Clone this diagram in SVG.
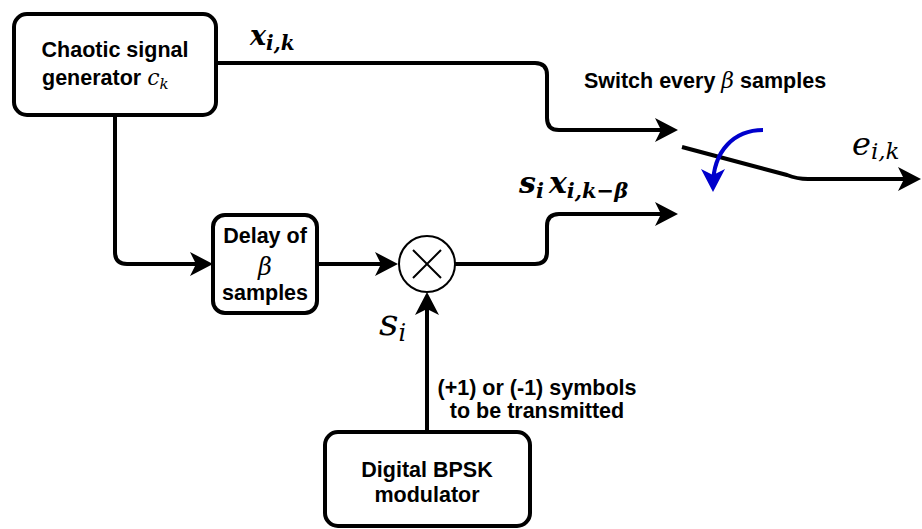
<svg xmlns="http://www.w3.org/2000/svg" width="922" height="529" viewBox="0 0 922 529">
<style>
.box{fill:#fff;stroke:#000;stroke-width:4}
.lbl{font-family:"Liberation Sans",Arial,sans-serif;font-weight:bold;font-size:21.5px;fill:#000}
.math{font-family:"DejaVu Serif","Liberation Serif",serif;font-style:italic;font-weight:normal;fill:#000}
.bm{font-weight:bold}
.wire{fill:none;stroke:#000;stroke-width:4;stroke-linejoin:round}
</style>
<defs>
<marker id="ah" markerUnits="userSpaceOnUse" markerWidth="24" markerHeight="24" refX="17" refY="12" orient="auto">
<path d="M0,0 L23,12 L0,24 L6,12 z" fill="#000"/>
</marker>
<marker id="ahb" markerUnits="userSpaceOnUse" markerWidth="24" markerHeight="24" refX="17" refY="12" orient="auto">
<path d="M0,0 L23,12 L0,24 L6,12 z" fill="#0000cc"/>
</marker>
</defs>
<g id="connectors">
<path class="wire" d="M216,63 H535 Q547,63 547,75 V118 Q547,130 559,130 H672" marker-end="url(#ah)"/>
<path class="wire" d="M115,115 V252 Q115,264 127,264 H207" marker-end="url(#ah)"/>
<path class="wire" d="M317,264 H392" marker-end="url(#ah)"/>
<path class="wire" d="M455,264 H535 Q547,264 547,252 V226 Q547,214 559,214 H672" marker-end="url(#ah)"/>
<path class="wire" d="M427,432 V298" marker-end="url(#ah)"/>
<path class="wire" d="M682,147 L787,175 Q797,179 808,179 H915" marker-end="url(#ah)"/>
<path fill="none" stroke="#0000cc" stroke-width="4" d="M763,130 C735,130 713,150 713,186" marker-end="url(#ahb)"/>
</g>
<g id="chaotic">
<rect class="box" x="14" y="14" width="202" height="101" rx="13"/>
<text class="lbl" x="115" y="57" text-anchor="middle">Chaotic signal</text>
<text class="lbl" x="42" y="85">generator <tspan class="math" style="font-size:22px">c</tspan><tspan class="math" style="font-size:15px" dy="4">k</tspan></text>
</g>
<g id="delay">
<rect class="box" x="213" y="215" width="104" height="98" rx="12"/>
<text class="lbl" x="265" y="243" text-anchor="middle">Delay of</text>
<text class="math" x="265" y="275" text-anchor="middle" font-size="24" fill="#444">β</text>
<text class="lbl" x="265" y="300" text-anchor="middle">samples</text>
</g>
<g id="mixer">
<circle cx="427" cy="264" r="28" fill="#fff" stroke="#000" stroke-width="2"/>
<path d="M413,250 L441,278 M441,250 L413,278" stroke="#000" stroke-width="2"/>
</g>
<g id="bpsk">
<rect class="box" x="325" y="432" width="205" height="94" rx="13"/>
<text class="lbl" x="427" y="477" text-anchor="middle">Digital BPSK</text>
<text class="lbl" x="427" y="502" text-anchor="middle">modulator</text>
</g>
<g id="labels">
<text class="lbl" x="705" y="88" text-anchor="middle">Switch every <tspan class="math" style="font-size:22px">β</tspan> samples</text>
<text class="lbl" x="537" y="395" text-anchor="middle">(+1) or (-1) symbols</text>
<text class="lbl" x="537" y="418" text-anchor="middle">to be transmitted</text>
<text class="math bm" x="250" y="45" font-size="27">x<tspan font-size="20" dy="5">i,k</tspan></text>
<text class="math" x="852" y="155" font-size="32">e<tspan font-size="23" dy="4">i,k</tspan></text>
<text class="math bm" x="519" y="193" font-size="30">s<tspan font-size="21" dy="5">i</tspan><tspan dx="5" dy="-5">x</tspan><tspan font-size="21" dy="5">i,k−β</tspan></text>
<text class="math" x="379" y="335" font-size="38">s<tspan font-size="24" dy="6">i</tspan></text>
</g>
</svg>
